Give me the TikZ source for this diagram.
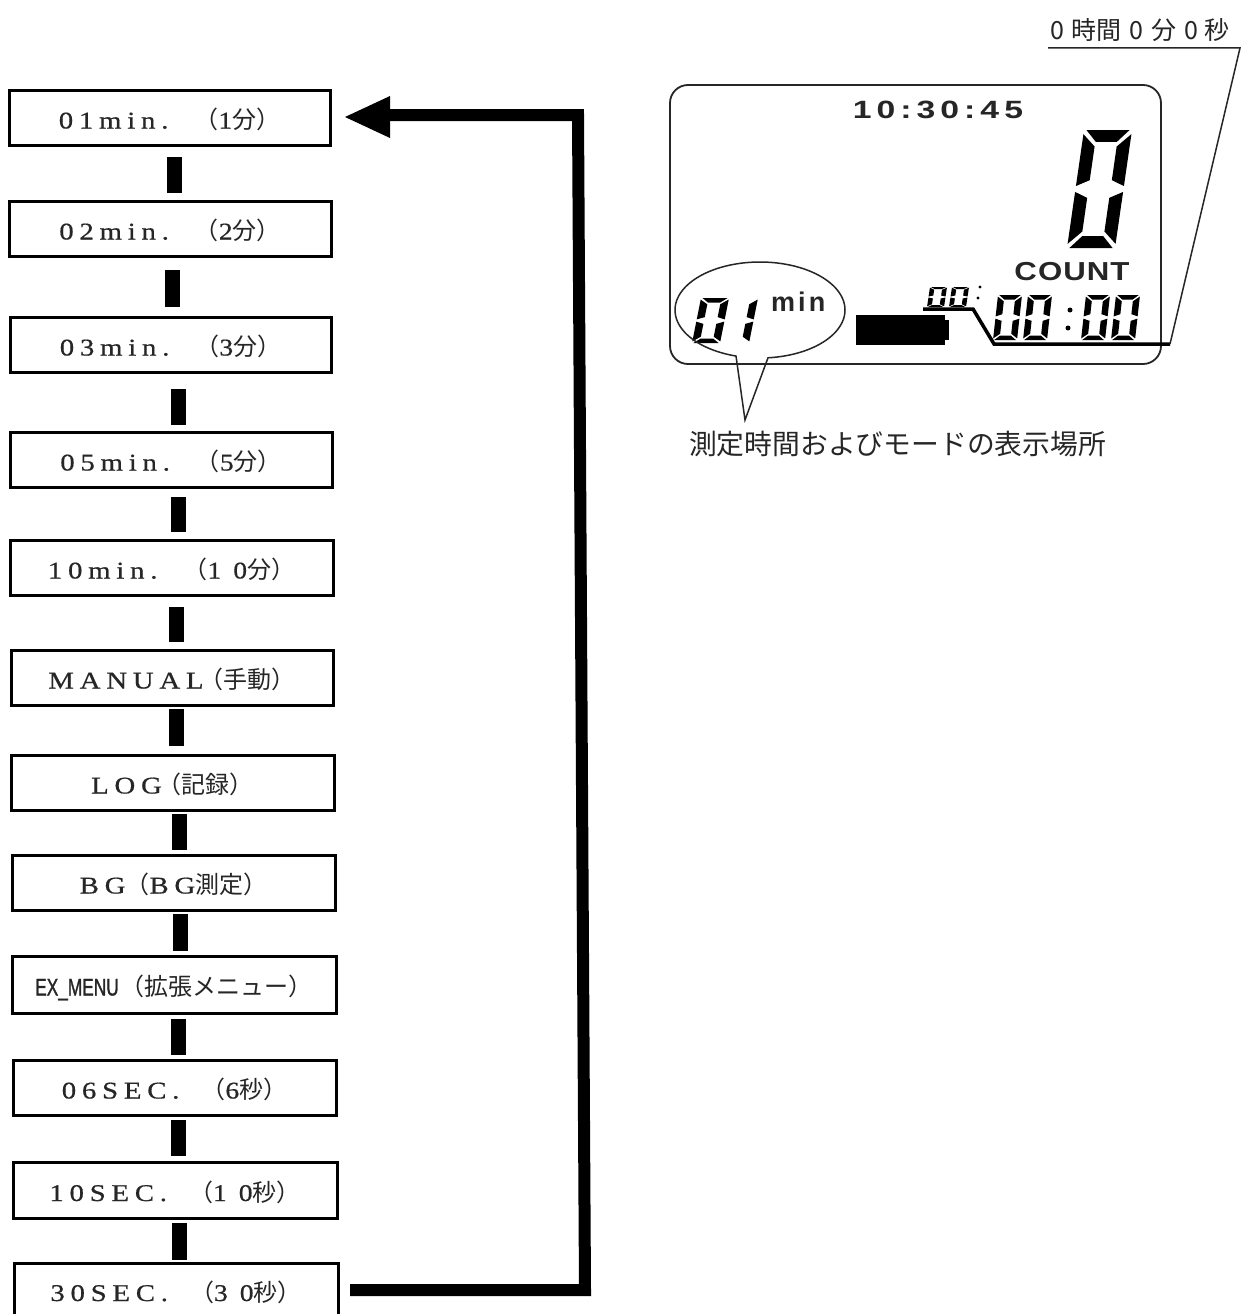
\documentclass[tikz,border=0pt]{standalone}
\usepackage{fontspec}
\setmainfont{Liberation Serif}
\newfontfamily\cjk{Noto Sans CJK JP}
\newfontfamily\lat[LetterSpace=24,FakeStretch=1.2,FakeBold=0.6]{Liberation Serif}
\newfontfamily\latpar[LetterSpace=50,FakeStretch=1.15,FakeBold=0.6]{Liberation Serif}
\newfontfamily\lcdbold[FakeStretch=1.2,LetterSpace=4]{Liberation Sans}
\newfontfamily\lcdclock[FakeStretch=1.35,LetterSpace=20]{Liberation Sans}
\newfontfamily\lcdmin[LetterSpace=12]{Liberation Sans}
\newfontfamily\exfont[FakeStretch=0.72,FakeBold=1.2]{Liberation Sans}
\newcommand{\menutext}[3]{{\lat #1}\hspace{#3}#2\hspace{6pt}}
\newcommand{\lcdzero}[5]{\begin{scope}[shift={(#1,#2)},x={(#3pt,0pt)},y={(#4pt,#5pt)}]
\fill (.05,2)--(.95,2)--(.72,1.8)--(.28,1.8)--cycle;
\fill (.05,0)--(.95,0)--(.72,.2)--(.28,.2)--cycle;
\fill (0,1.93)--(.27,1.72)--(.27,1.15)--(0,1.05)--cycle;
\fill (1,1.93)--(.73,1.72)--(.73,1.15)--(1,1.05)--cycle;
\fill (0,.95)--(.27,.85)--(.27,.28)--(0,.07)--cycle;
\fill (1,.95)--(.73,.85)--(.73,.28)--(1,.07)--cycle;
\end{scope}}
\newcommand{\lcdone}[5]{\begin{scope}[shift={(#1,#2)},x={(#3pt,0pt)},y={(#4pt,#5pt)}]
\fill (1,1.93)--(.73,1.72)--(.73,1.15)--(1,1.05)--cycle;
\fill (1,.95)--(.73,.85)--(.73,.28)--(1,.07)--cycle;
\end{scope}}
\tikzset{
 menubox/.style={draw=black,line width=3pt,rectangle,inner sep=0pt,outer sep=0pt,fill=white,text=black!85,text height=30pt,text depth=8pt,font=\fontsize{24}{26}\selectfont\cjk},
 linkbar/.style={draw=black,line width=15pt},
 thinline/.style={draw=black!85,line width=1.5pt},
 bigarrow/.style={draw=black,line width=12pt},
 arrowtip/.style={fill=black,draw=none},
 lcdtext/.style={text=black!85,inner sep=0pt,outer sep=0pt},
}
\begin{document}
\begin{tikzpicture}[x=1pt,y=-1pt]
\useasboundingbox (0,0) rectangle (1242,1314);
\fill[white] (0,0) rectangle (1242,1314);
% menu boxes
\node[menubox,minimum width=321pt,minimum height=55pt] (b1) at (169.5,117.5) {\menutext{01min.}{（{\latpar 1}分）}{26pt}};
\node[menubox,minimum width=322pt,minimum height=55pt] (b2) at (170,228.5) {\menutext{02min.}{（{\latpar 2}分）}{26pt}};
\node[menubox,minimum width=321pt,minimum height=55pt] (b3) at (170.5,344.5) {\menutext{03min.}{（{\latpar 3}分）}{26pt}};
\node[menubox,minimum width=322pt,minimum height=55pt] (b4) at (171,459.5) {\menutext{05min.}{（{\latpar 5}分）}{26pt}};
\node[menubox,minimum width=323pt,minimum height=55pt] (b5) at (171.5,567.5) {\menutext{10min.}{（{\latpar 10}分）}{26pt}};
\node[menubox,minimum width=322pt,minimum height=55pt] (b6) at (172,677.5) {\menutext{MANUAL}{（手動）}{-4pt}};
\node[menubox,minimum width=323pt,minimum height=55pt] (b7) at (172.5,782.5) {\menutext{LOG}{（記録）}{-4pt}};
\node[menubox,minimum width=323pt,minimum height=55pt] (b8) at (173.5,882.5) {\menutext{BG}{（{\lat BG}測定）}{0pt}};
\node[menubox,minimum width=324pt,minimum height=57pt] (b9) at (174,984.5) {{\exfont EX\_MENU}\hspace{2pt}（拡張メニュー）};
\node[menubox,minimum width=323pt,minimum height=55pt] (b10) at (174.5,1087.5) {\menutext{06SEC.}{（{\latpar 6}秒）}{22pt}};
\node[menubox,minimum width=324pt,minimum height=56pt] (b11) at (175,1190) {\menutext{10SEC.}{（{\latpar 10}秒）}{22pt}};
\node[menubox,minimum width=324pt,minimum height=54pt] (b12) at (176,1290) {\menutext{30SEC.}{（{\latpar 30}秒）}{22pt}};
% connector bars
\draw[linkbar,shorten <=12pt,shorten >=8pt] ([xshift=4.5pt]b1.south) -- ([xshift=4.5pt]b1.south |- b2.north);
\draw[linkbar,shorten <=14pt,shorten >=10pt] ([xshift=2pt]b2.south) -- ([xshift=2pt]b2.south |- b3.north);
\draw[linkbar,shorten <=17pt,shorten >=7pt] ([xshift=7.5pt]b3.south) -- ([xshift=7.5pt]b3.south |- b4.north);
\draw[linkbar,shorten <=10pt,shorten >=8pt] ([xshift=7pt]b4.south) -- ([xshift=7pt]b4.south |- b5.north);
\draw[linkbar,shorten <=12pt,shorten >=8pt] ([xshift=4.5pt]b5.south) -- ([xshift=4.5pt]b5.south |- b6.north);
\draw[linkbar,shorten <=4pt,shorten >=9pt] ([xshift=4pt]b6.south) -- ([xshift=4pt]b6.south |- b7.north);
\draw[linkbar,shorten <=4pt,shorten >=5pt] ([xshift=7pt]b7.south) -- ([xshift=7pt]b7.south |- b8.north);
\draw[linkbar,shorten <=4pt,shorten >=5pt] ([xshift=6.5pt]b8.south) -- ([xshift=6.5pt]b8.south |- b9.north);
\draw[linkbar,shorten <=6pt,shorten >=5pt] ([xshift=4pt]b9.south) -- ([xshift=4pt]b9.south |- b10.north);
\draw[linkbar,shorten <=5pt,shorten >=6pt] ([xshift=3.5pt]b10.south) -- ([xshift=3.5pt]b10.south |- b11.north);
\draw[linkbar,shorten <=5pt,shorten >=3pt] ([xshift=4pt]b11.south) -- ([xshift=4pt]b11.south |- b12.north);
% return arrow
\coordinate (corner1) at (585,1289);
\coordinate (corner2) at (578,115);
\draw[bigarrow,shorten <=12pt,shorten >=45pt,line join=miter] (b12.east) -- (b12.east -| corner1) -- (corner2) -- (b1.east |- corner2);
\fill[arrowtip] (345,117) -- (390,96) -- (390,138) -- cycle;
% LCD panel
\node[draw=black!85,line width=1.8pt,rounded corners=18pt,minimum width=491pt,minimum height=279pt,inner sep=0pt,outer sep=0pt] (lcd) at (915.5,224.5) {};
\node[lcdtext,font=\fontsize{25}{27}\selectfont\lcdclock\bfseries] (clock) at (938,110) {10:30:45};
\lcdzero{1067}{248}{48}{8.5}{59}
\node[lcdtext,font=\fontsize{26}{28}\selectfont\lcdbold\bfseries] (count) at (1072,272) {COUNT};
\lcdzero{993}{340}{24}{2.5}{22.5}
\lcdzero{1023}{340}{24}{2.5}{22.5}
\fill (1070,310) circle (2.5pt) (1068,328) circle (2.5pt);
\lcdzero{1081}{340}{24}{2.5}{22.5}
\lcdzero{1111}{340}{24}{2.5}{22.5}
\lcdzero{927}{307}{17}{1.5}{10}
\lcdzero{949}{307}{17}{1.5}{10}
\fill (980,287) circle (1.6pt) (978,298) circle (1.6pt);
\coordinate (u1) at (923,309);
\coordinate (u2) at (973,309);
\coordinate (u3) at (994,344);
\coordinate (u4) at (1170,344);
\coordinate (u5) at (1240,48);
\coordinate (u6) at (1048,48);
\draw[line width=3.5pt,draw=black] (u1) -- (u2) -- (u3) -- (u4);
\draw[thinline] (u4) -- (u5) -- (u6);
\node[lcdtext,font=\fontsize{25}{27}\selectfont\cjk,anchor=west] (hms) at (1050,30) {0\hspace{8pt}時間\hspace{8pt}0\hspace{8pt}分\hspace{8pt}0\hspace{6pt}秒};
% battery
\fill (856,315) rectangle (945,345);
\fill (945,320) rectangle (949,340);
% mode digits
\lcdzero{692}{343}{28}{4.5}{22.5}
\lcdone{721}{343}{28}{4.5}{22.5}
\node[lcdtext,font=\fontsize{27}{29}\selectfont\lcdmin\bfseries,anchor=base west] (minlabel) at (771,311) {min};
% callout
\coordinate (tip) at (745,420);
\draw[thinline,line join=miter] (tip) -- plot[domain=84.6:-253.6,samples=120,smooth] ({760+85*cos(\x)},{310+48*sin(\x)}) -- cycle;
\node[lcdtext,font=\fontsize{27.8}{30}\selectfont\cjk,anchor=west] (modecap) at (689,444) {測定時間およびモードの表示場所};
\end{tikzpicture}
\end{document}
